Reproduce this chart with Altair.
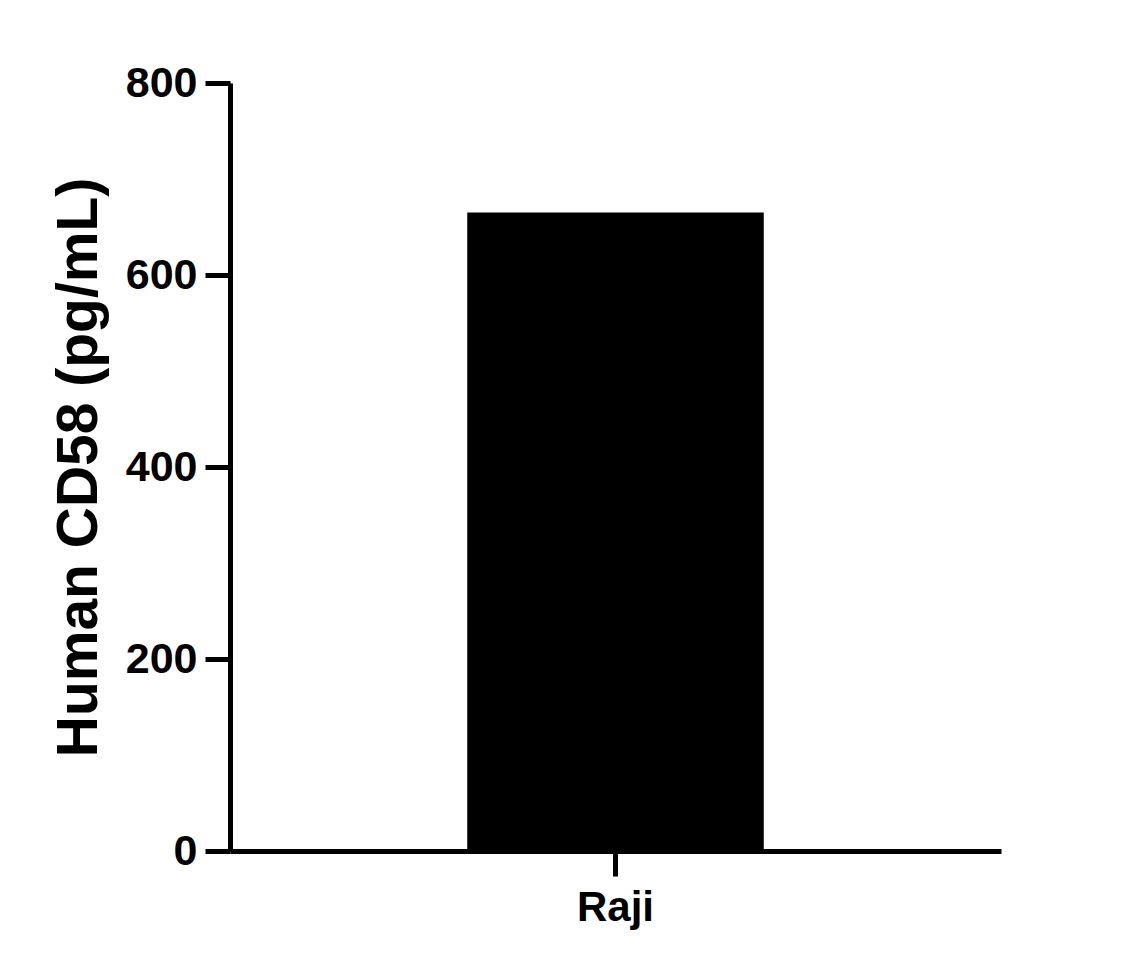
import altair as alt
import pandas as pd

categories = ["Raji"]
values = [665]

df = pd.DataFrame({"cell": categories, "value": values})

FONT = "Liberation Sans"

chart = (
    alt.Chart(df)
    .mark_bar(color="black")
    .encode(
        x=alt.X(
            "cell:N",
            title=None,
            scale=alt.Scale(paddingInner=0, paddingOuter=0.8),
            axis=alt.Axis(
                labelAngle=0,
                labelFont=FONT,
                labelFontSize=42,
                labelFontWeight="bold",
                labelColor="black",
                labelPadding=11,
                domainColor="black",
                domainWidth=5,
                tickColor="black",
                tickWidth=5,
                tickSize=25,
            ),
        ),
        y=alt.Y(
            "value:Q",
            title="Human CD58 (pg/mL)",
            scale=alt.Scale(domain=[0, 800], nice=False),
            axis=alt.Axis(
                values=[0, 200, 400, 600, 800],
                grid=False,
                labelFont=FONT,
                labelFontSize=43,
                labelFontWeight="bold",
                labelColor="black",
                labelPadding=8,
                domainColor="black",
                domainWidth=5,
                tickColor="black",
                tickWidth=5,
                tickSize=25,
                titleFont=FONT,
                titleFontSize=57,
                titleFontWeight="bold",
                titleColor="black",
                titleAngle=-90,
                titleX=-134,
                titleY=384,
                titleAlign="center",
                titleBaseline="alphabetic",
            ),
        ),
    )
    .properties(
        width=771,
        height=768,
        autosize=alt.AutoSizeParams(type="none"),
        padding={"left": 222, "top": 75, "right": 120, "bottom": 100},
        view=alt.ViewBackground(stroke="transparent", strokeWidth=0),
    )
    .configure_view(stroke="transparent", strokeWidth=0)
    .configure(background="white")
)

chart.save("out.html", embed_options={"renderer": "svg", "actions": False})
